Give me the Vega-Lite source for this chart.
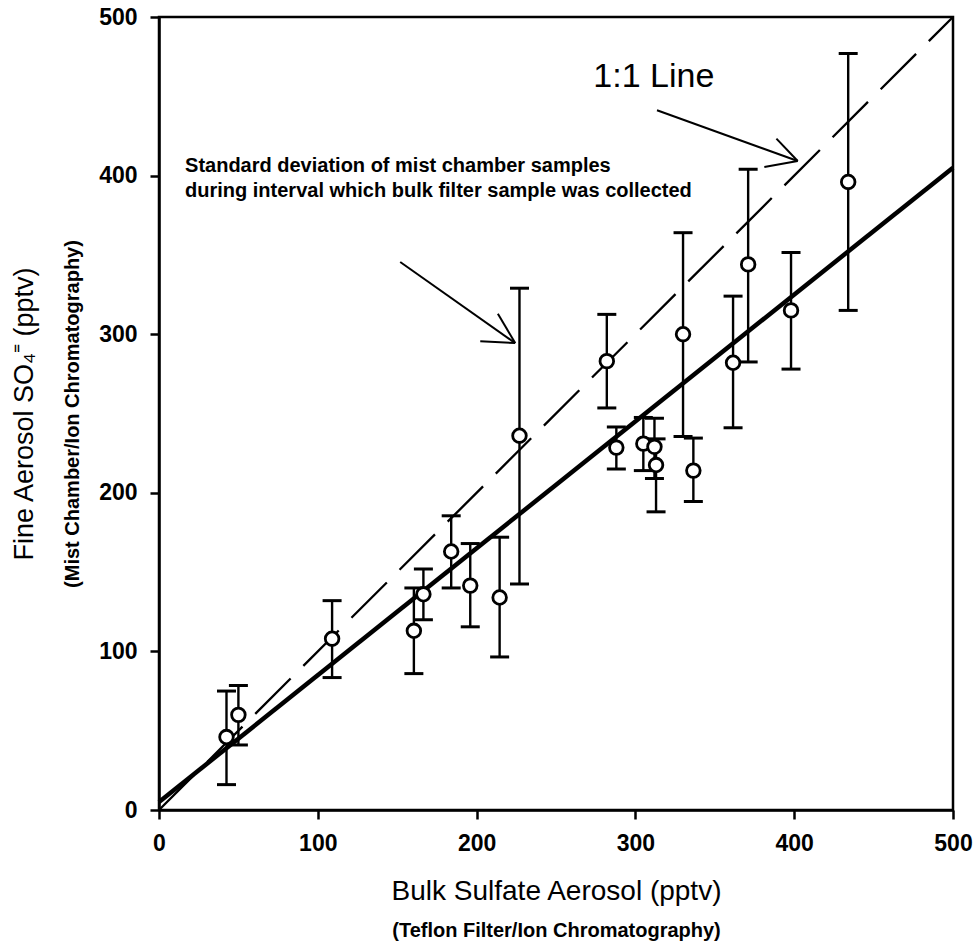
{
  "$schema": "https://vega.github.io/schema/vega-lite/v6.json",
  "width": 794,
  "height": 793,
  "autosize": {"type": "none"},
  "padding": {"left": 159, "top": 17, "right": 23, "bottom": 137},
  "background": "white",
  "config": {
    "view": {"stroke": "black", "strokeWidth": 2.5},
    "font": "Liberation Sans",
    "axis": {
      "grid": false,
      "domainColor": "black",
      "domainWidth": 2.5,
      "tickColor": "black",
      "tickWidth": 2.5,
      "tickSize": 9,
      "labelColor": "black",
      "labelFont": "Liberation Sans",
      "labelFontSize": 23,
      "labelFontWeight": "bold",
      "labelFlush": false,
      "labelPadding": 13,
      "titleColor": "black",
      "titleFont": "Liberation Sans",
      "titleFontWeight": "normal"
    }
  },
  "datasets": {
    "samples": [
      {"bulk": 42.5, "fine": 46, "lo": 16, "hi": 75},
      {"bulk": 50, "fine": 60, "lo": 41, "hi": 78.5},
      {"bulk": 109, "fine": 108, "lo": 83.5, "hi": 132},
      {"bulk": 160.5, "fine": 113, "lo": 86, "hi": 140},
      {"bulk": 166.5, "fine": 136, "lo": 120, "hi": 152},
      {"bulk": 184, "fine": 163, "lo": 140, "hi": 185.5},
      {"bulk": 196, "fine": 141.5, "lo": 115.5, "hi": 168},
      {"bulk": 214.5, "fine": 134, "lo": 96.5, "hi": 172},
      {"bulk": 227, "fine": 236, "lo": 142.5, "hi": 329},
      {"bulk": 282, "fine": 283, "lo": 253.5, "hi": 312.5},
      {"bulk": 288, "fine": 228.5, "lo": 215, "hi": 241.5},
      {"bulk": 305, "fine": 231, "lo": 214, "hi": 247.5},
      {"bulk": 312, "fine": 229, "lo": 209, "hi": 247},
      {"bulk": 313, "fine": 217.5, "lo": 188, "hi": 234},
      {"bulk": 330, "fine": 300, "lo": 235.5, "hi": 364},
      {"bulk": 336.5, "fine": 214, "lo": 194.5, "hi": 234.5},
      {"bulk": 361.5, "fine": 282, "lo": 241, "hi": 324},
      {"bulk": 371, "fine": 344, "lo": 282.5, "hi": 404},
      {"bulk": 398, "fine": 315, "lo": 278, "hi": 351.5},
      {"bulk": 434, "fine": 396, "lo": 315, "hi": 477}
    ],
    "oneToOne": [{"x": 0, "y": 0}, {"x": 500, "y": 500}],
    "fit": [{"x": 0, "y": 5}, {"x": 500, "y": 405}],
    "arrows": [
      {"x": 313.6, "y": 441.2, "x2": 402.2, "y2": 409.2},
      {"x": 388.8, "y": 423.3, "x2": 402.2, "y2": 409.2},
      {"x": 381.2, "y": 405.4, "x2": 402.2, "y2": 409.2},
      {"x": 151.9, "y": 345.5, "x2": 224.3, "y2": 294.4},
      {"x": 213.4, "y": 312.9, "x2": 224.3, "y2": 294.4},
      {"x": 202.3, "y": 295.5, "x2": 224.3, "y2": 294.4}
    ],
    "bigLabel": [{"x": 273.5, "y": 455.9, "text": "1:1 Line"}],
    "notes": [
      {"x": 16.4, "y": 402.1, "text": "Standard deviation of mist chamber samples"},
      {"x": 16.4, "y": 386.3, "text": "during interval which bulk filter sample was collected"}
    ]
  },
  "layer": [
    {
      "data": {"name": "fit"},
      "mark": {"type": "line", "color": "black", "strokeWidth": 4.5},
      "encoding": {
        "x": {"field": "x", "type": "quantitative", "scale": {"domain": [0, 500], "nice": false},
          "axis": {"orient": "bottom", "title": "(Teflon Filter/Ion Chromatography)", "labels": false, "ticks": false, "domain": false,
            "titleFontSize": 20, "titleFontWeight": "bold", "titlePadding": 110}},
        "y": {"field": "y", "type": "quantitative", "scale": {"domain": [0, 500], "nice": false},
          "axis": {"orient": "left", "title": "(Mist Chamber/Ion Chromatography)", "labels": false, "ticks": false, "domain": false,
            "titleFontSize": 20, "titleFontWeight": "bold", "titlePadding": 77}}
      }
    },
    {
      "data": {"name": "oneToOne"},
      "mark": {"type": "line", "color": "black", "strokeWidth": 2.3, "strokeDash": [50, 18]},
      "encoding": {
        "x": {"field": "x", "type": "quantitative", "scale": {"domain": [0, 500], "nice": false}, "axis": null},
        "y": {"field": "y", "type": "quantitative", "scale": {"domain": [0, 500], "nice": false}, "axis": null}
      }
    },
    {
      "data": {"name": "samples"},
      "mark": {"type": "rule", "color": "black", "strokeWidth": 2.4},
      "encoding": {
        "x": {"field": "bulk", "type": "quantitative", "scale": {"domain": [0, 500], "nice": false}, "axis": null},
        "y": {"field": "lo", "type": "quantitative", "scale": {"domain": [0, 500], "nice": false}, "axis": null},
        "y2": {"field": "hi"}
      }
    },
    {
      "data": {"name": "samples"},
      "mark": {"type": "tick", "color": "black", "orient": "horizontal", "thickness": 3, "size": 19, "opacity": 1},
      "encoding": {
        "x": {"field": "bulk", "type": "quantitative", "scale": {"domain": [0, 500], "nice": false}, "axis": null},
        "y": {"field": "lo", "type": "quantitative", "scale": {"domain": [0, 500], "nice": false}, "axis": null}
      }
    },
    {
      "data": {"name": "samples"},
      "mark": {"type": "tick", "color": "black", "orient": "horizontal", "thickness": 3, "size": 19, "opacity": 1},
      "encoding": {
        "x": {"field": "bulk", "type": "quantitative", "scale": {"domain": [0, 500], "nice": false}, "axis": null},
        "y": {"field": "hi", "type": "quantitative", "scale": {"domain": [0, 500], "nice": false}, "axis": null}
      }
    },
    {
      "data": {"name": "samples"},
      "mark": {"type": "point", "shape": "circle", "size": 185, "filled": false, "fill": "white", "fillOpacity": 1, "stroke": "black", "strokeWidth": 2.8, "opacity": 1},
      "encoding": {
        "x": {"field": "bulk", "type": "quantitative", "scale": {"domain": [0, 500], "nice": false},
          "axis": {"orient": "bottom", "title": "Bulk Sulfate Aerosol (pptv)", "values": [0, 100, 200, 300, 400, 500],
            "titleFontSize": 28, "titlePadding": 22}},
        "y": {"field": "fine", "type": "quantitative", "scale": {"domain": [0, 500], "nice": false},
          "axis": {"orient": "left", "title": "Fine Aerosol SO₄⁼  (pptv)", "values": [0, 100, 200, 300, 400, 500],
            "titleFontSize": 27, "titlePadding": 60}}
      }
    },
    {
      "data": {"name": "arrows"},
      "mark": {"type": "rule", "color": "black", "strokeWidth": 2},
      "encoding": {
        "x": {"field": "x", "type": "quantitative", "scale": {"domain": [0, 500], "nice": false}, "axis": null},
        "y": {"field": "y", "type": "quantitative", "scale": {"domain": [0, 500], "nice": false}, "axis": null},
        "x2": {"field": "x2"},
        "y2": {"field": "y2"}
      }
    },
    {
      "data": {"name": "bigLabel"},
      "mark": {"type": "text", "color": "black", "fontSize": 34, "font": "Liberation Sans", "align": "left", "baseline": "alphabetic"},
      "encoding": {
        "x": {"field": "x", "type": "quantitative", "scale": {"domain": [0, 500], "nice": false}, "axis": null},
        "y": {"field": "y", "type": "quantitative", "scale": {"domain": [0, 500], "nice": false}, "axis": null},
        "text": {"field": "text"}
      }
    },
    {
      "data": {"name": "notes"},
      "mark": {"type": "text", "color": "black", "fontSize": 20, "fontWeight": "bold", "font": "Liberation Sans", "align": "left", "baseline": "alphabetic"},
      "encoding": {
        "x": {"field": "x", "type": "quantitative", "scale": {"domain": [0, 500], "nice": false}, "axis": null},
        "y": {"field": "y", "type": "quantitative", "scale": {"domain": [0, 500], "nice": false}, "axis": null},
        "text": {"field": "text"}
      }
    }
  ],
  "resolve": {"axis": {"x": "independent", "y": "independent"}}
}
